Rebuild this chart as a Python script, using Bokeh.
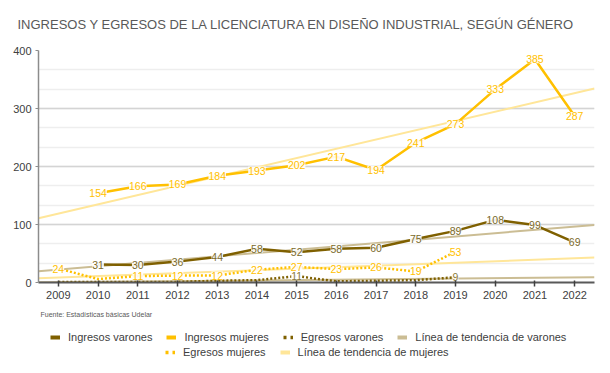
import numpy as np
from bokeh.plotting import figure
from bokeh.layouts import column
from bokeh.models import Range1d, FixedTicker, Legend, LegendItem, Label, ColumnDataSource
from bokeh.embed import file_html
from bokeh.resources import INLINE
from bokeh.core.properties import value

# ---------------- data ----------------
years = list(range(2009, 2023))
ing_years = list(range(2010, 2023))
ingresos_varones = [31, 30, 36, 44, 58, 52, 58, 60, 75, 89, 108, 99, 69]
ingresos_mujeres = [154, 166, 169, 184, 193, 202, 217, 194, 241, 273, 333, 385, 287]
egr_years = list(range(2009, 2020))
egresos_varones = [1, 1, 1, 1, 3, 4, 11, 2, 3, 4, 9]
egresos_mujeres = [24, 6, 11, 12, 12, 22, 27, 23, 26, 19, 53]

title_text = "INGRESOS Y EGRESOS DE LA LICENCIATURA EN DISEÑO INDUSTRIAL, SEGÚN GÉNERO"
source_text = "Fuente: Estadísticas básicas Udelar"
legend_row1 = ["Ingresos varones", "Ingresos mujeres", "Egresos varones",
               "Línea de tendencia de varones"]
legend_row2 = ["Egresos mujeres", "Línea de tendencia de mujeres"]

C_IV = "#7f6000"
C_IM = "#ffc000"
C_TV = "#cbbd94"
C_TM = "#ffe699"
FONT = "Liberation Sans"

STYLES = {
    "iv": dict(line_color=C_IV, line_width=2.5),
    "im": dict(line_color=C_IM, line_width=2.5),
    "ev": dict(line_color=C_IV, line_width=2.5, line_dash="2 2"),
    "em": dict(line_color=C_IM, line_width=2.5, line_dash="2 2"),
    "tv": dict(line_color=C_TV, line_width=2),
    "tm": dict(line_color=C_TM, line_width=2),
}
LEGEND_STYLES = {
    "iv": dict(line_color=C_IV, line_width=4),
    "im": dict(line_color=C_IM, line_width=4),
    "ev": dict(line_color=C_IV, line_width=3.5, line_dash="3 4"),
    "em": dict(line_color=C_IM, line_width=3.5, line_dash="3 4"),
    "tv": dict(line_color=C_TV, line_width=4),
    "tm": dict(line_color=C_TM, line_width=4),
}

p = figure(width=610, height=305, output_backend="svg", toolbar_location=None,
           x_range=Range1d(years[0] - 0.5, years[-1] + 0.5), y_range=Range1d(0, 400),
           min_border_left=38, min_border_right=16, min_border_top=48, min_border_bottom=23,
           title=title_text)
p.outline_line_color = None
p.background_fill_color = "white"
p.border_fill_color = "white"

p.title.text_font = FONT
p.title.text_font_size = "13px"
p.title.text_font_style = "normal"
p.title.text_color = "#595959"
p.title.align = "left"
p.title.vertical_align = "top"
p.title.offset = -21
p.title.standoff = 33

# axes
p.xaxis.ticker = FixedTicker(ticks=years)
p.xaxis.major_label_text_font = FONT
p.xaxis.major_label_text_font_size = "11px"
p.xaxis.major_label_text_color = "#404040"
p.xaxis.axis_line_color = "#595959"
p.xaxis.axis_line_width = 2
p.xaxis.major_tick_line_color = "#404040"
p.xaxis.major_tick_line_width = 1.5
p.xaxis.major_tick_out = 4
p.xaxis.major_tick_in = 2
p.xaxis.minor_tick_line_color = None
p.xaxis.major_label_standoff = 4

p.yaxis.ticker = FixedTicker(ticks=[0, 100, 200, 300, 400],
                             minor_ticks=[i * 100 / 3 for i in range(13)])
p.yaxis.major_label_text_font = FONT
p.yaxis.major_label_text_font_size = "11px"
p.yaxis.major_label_text_color = "#404040"
p.yaxis.axis_line_color = "#8c8c8c"
p.yaxis.axis_line_width = 1.5
p.yaxis.major_tick_line_color = "#8c8c8c"
p.yaxis.major_tick_out = 3
p.yaxis.major_tick_in = 0
p.yaxis.minor_tick_line_color = None
p.yaxis.major_label_standoff = 3

p.xgrid.grid_line_color = None
p.ygrid.grid_line_color = "#d4d4d4"
p.ygrid.grid_line_width = 1.5
p.ygrid.minor_grid_line_color = "#eeeeee"
p.ygrid.minor_grid_line_width = 1.5

# trend lines (linear fit of each series, drawn across full axis)
x_edges = np.array([years[0] - 0.5, years[-1] + 0.5])

def trend(xs, ys):
    k, b = np.polyfit(xs, ys, 1)
    return k * x_edges + b

p.line(x_edges, trend(ing_years, ingresos_varones), **STYLES["tv"])
p.line(x_edges, trend(ing_years, ingresos_mujeres), **STYLES["tm"])
p.line(x_edges, trend(egr_years, egresos_varones), **STYLES["tv"])
p.line(x_edges, trend(egr_years, egresos_mujeres), **STYLES["tm"])

# data lines
p.line(egr_years, egresos_varones, **STYLES["ev"])
p.line(egr_years, egresos_mujeres, **STYLES["em"])
p.line(ing_years, ingresos_varones, **STYLES["iv"])
p.line(ing_years, ingresos_mujeres, **STYLES["im"])

# data labels
def labels(xs, ys, color, min_show=0):
    xx = [x for x, y in zip(xs, ys) if y >= min_show]
    yy = [y for y in ys if y >= min_show]
    src = ColumnDataSource(dict(x=xx, y=yy, t=[str(v) for v in yy]))
    p.text(x="x", y="y", text="t", source=src, text_align="center", text_baseline="middle",
           text_font=value(FONT), text_font_size="10.5px", text_color=color,
           background_fill_color="white", background_fill_alpha=0.9, padding=0)

labels(egr_years, egresos_varones, "#8a7a3a", min_show=9)
labels(egr_years, egresos_mujeres, C_IM, min_show=10)
labels(ing_years, ingresos_varones, "#7a6a2a")
labels(ing_years, ingresos_mujeres, C_IM)

# ---------------- legend / source panel ----------------
LH = 68
lf = figure(width=610, height=LH, output_backend="svg", toolbar_location=None,
            x_range=Range1d(0, 1), y_range=Range1d(0, 1),
            min_border=0, x_axis_location=None, y_axis_location=None)
lf.outline_line_color = None
lf.xgrid.grid_line_color = None
lf.ygrid.grid_line_color = None

def dummy(key):
    # legend swatch carrier: one undefined point, draws nothing in the frame
    return lf.line([np.nan], [np.nan], **LEGEND_STYLES[key])

rk1 = [dummy(k) for k in ["iv", "im", "ev", "tv"]]
rk2 = [dummy(k) for k in ["em", "tm"]]

def make_legend(labels_, rends, loc):
    lg = Legend(items=[LegendItem(label=t, renderers=[r]) for t, r in zip(labels_, rends)],
                location=loc, orientation="horizontal",
                label_text_font=FONT, label_text_font_size="11px", label_text_color="#404040",
                glyph_width=10, glyph_height=14, label_height=14, label_standoff=8,
                spacing=14, padding=0, margin=0, border_line_color=None,
                background_fill_alpha=0)
    lf.add_layout(lg, "center")

make_legend(legend_row1, rk1, (12, 29))
make_legend(legend_row2, rk2, (127, 14))

lf.add_layout(Label(x=2, y=LH - 9, x_units="screen", y_units="screen", text=source_text,
                    text_font=FONT, text_font_size="7px", text_color="#595959",
                    text_baseline="middle"))

open("out.html", "w").write(file_html(column(p, lf, spacing=0), INLINE))
